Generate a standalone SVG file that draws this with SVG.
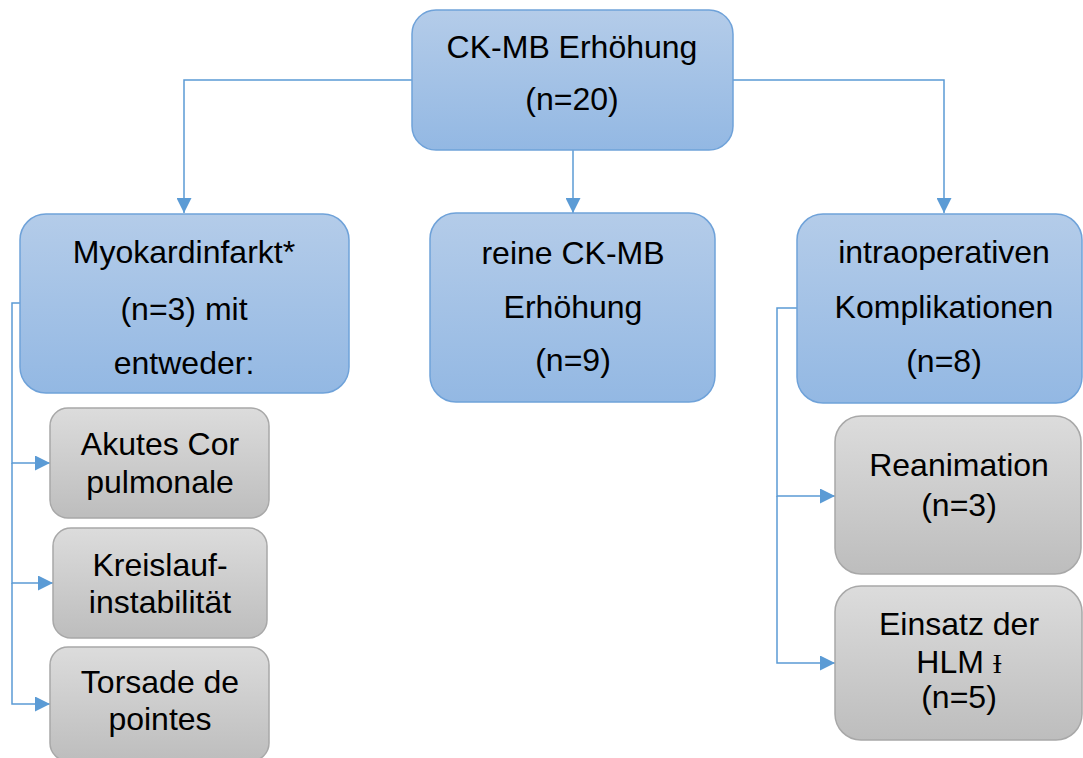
<svg xmlns="http://www.w3.org/2000/svg" width="1083" height="758" viewBox="0 0 1083 758">
<defs>
<linearGradient id="gb" x1="0" y1="0" x2="0" y2="1"><stop offset="0" stop-color="#b4cce9"/><stop offset="1" stop-color="#93b8e3"/></linearGradient>
<linearGradient id="gg" x1="0" y1="0" x2="0" y2="1"><stop offset="0" stop-color="#dcdcdc"/><stop offset="1" stop-color="#bdbdbd"/></linearGradient>
<marker id="ah" viewBox="0 0 15 15" refX="15" refY="7.5" markerWidth="15" markerHeight="15" markerUnits="userSpaceOnUse" orient="auto"><path d="M0,0 L15,7.5 L0,15 Z" fill="#5b9bd5"/></marker>
<style>
.b{fill:url(#gb);stroke:#6fa2d9;stroke-width:1.5}
.g{fill:url(#gg);stroke:#a8a8a8;stroke-width:1.5}
text{font-family:"Liberation Sans",Arial,sans-serif;font-size:32px;fill:#000;text-anchor:middle}
.c{fill:none;stroke:#5b9bd5;stroke-width:1.5;marker-end:url(#ah)}
.s{font-family:"Liberation Serif","Times New Roman",serif;font-size:27px}
</style>
</defs>
<g id="connectors">
<path class="c" d="M412,80 H184 V213"/>
<path class="c" d="M733,80 H944 V213"/>
<path class="c" d="M573,150 V213"/>
<path class="c" d="M20,303 H12 V463 H50"/>
<path class="c" d="M12,463 V583 H53"/>
<path class="c" d="M12,583 V704 H50"/>
<path class="c" d="M797,308 H777 V496 H835"/>
<path class="c" d="M777,496 V663 H835"/>
</g>
<g id="n-root"><rect class="b" x="412" y="10" width="321" height="140" rx="24"/><text x="572" y="58">CK-MB Erhöhung</text><text x="572" y="110">(n=20)</text></g>
<g id="n-myo"><rect class="b" x="20" y="214" width="329" height="179" rx="26"/><text x="184" y="263">Myokardinfarkt*</text><text x="184" y="320">(n=3) mit</text><text x="184" y="374">entweder:</text></g>
<g id="n-reine"><rect class="b" x="430" y="213" width="285" height="189" rx="26"/><text x="573" y="264">reine CK-MB</text><text x="573" y="318">Erhöhung</text><text x="573" y="371">(n=9)</text></g>
<g id="n-intra"><rect class="b" x="797" y="214" width="285" height="189" rx="26"/><text x="944" y="263">intraoperativen</text><text x="944" y="318">Komplikationen</text><text x="944" y="372">(n=8)</text></g>
<g id="n-akut"><rect class="g" x="50" y="408" width="219" height="110" rx="18"/><text x="160" y="455">Akutes Cor</text><text x="160" y="493">pulmonale</text></g>
<g id="n-kreis"><rect class="g" x="53" y="528" width="214" height="110" rx="18"/><text x="160" y="576">Kreislauf-</text><text x="160" y="613">instabilität</text></g>
<g id="n-torsade"><rect class="g" x="50" y="647" width="219" height="114" rx="18"/><text x="160" y="693">Torsade de</text><text x="160" y="730">pointes</text></g>
<g id="n-rean"><rect class="g" x="835" y="416" width="246" height="158" rx="26"/><text x="959" y="476">Reanimation</text><text x="959" y="516">(n=3)</text></g>
<g id="n-hlm"><rect class="g" x="835" y="586" width="247" height="154" rx="26"/><text x="959" y="673">HLM <tspan class="s">Ɨ</tspan></text><text x="959" y="635">Einsatz der</text><text x="959" y="708">(n=5)</text></g>
</svg>
